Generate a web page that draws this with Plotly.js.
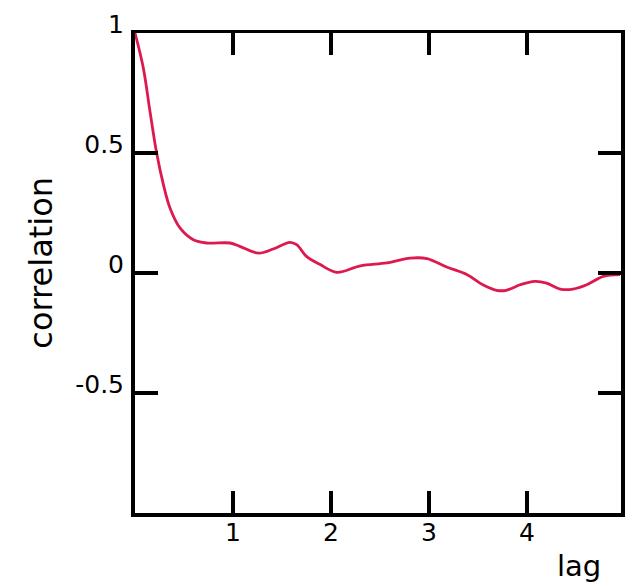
<!DOCTYPE html>
<html>
<head>
<meta charset="utf-8">
<script src="https://cdn.plot.ly/plotly-3.0.1.min.js"></script>
<style>html,body{margin:0;padding:0;background:#fff;} #chart{width:631px;height:588px;}</style>
</head>
<body>
<div id="chart"></div>
<script>
// lag values and autocorrelation
var lag = [0, 0.085, 0.153, 0.221, 0.29, 0.357, 0.459, 0.595, 0.73, 0.97, 1.07, 1.26, 1.41, 1.58, 1.65, 1.75, 1.89, 2.06, 2.30, 2.57, 2.81, 2.98, 3.18, 3.39, 3.55, 3.69, 3.79, 3.93, 4.08, 4.20, 4.34, 4.47, 4.61, 4.78, 4.95];
var correlation = [1.0, 0.854, 0.673, 0.5, 0.368, 0.271, 0.188, 0.139, 0.125, 0.125, 0.111, 0.083, 0.10, 0.128, 0.118, 0.069, 0.035, 0.003, 0.03, 0.042, 0.062, 0.06, 0.025, -0.007, -0.049, -0.072, -0.072, -0.049, -0.035, -0.042, -0.067, -0.067, -0.049, -0.014, -0.007];

var xTickVals = [1, 2, 3, 4];
var xTickText = ['1', '2', '3', '4'];
var yTickVals = [-0.5, 0, 0.5, 1];
var yTickText = ['-0.5', '0', '0.5', '1'];
var xTitle = 'lag';
var yTitle = 'correlation';

var trace = {
  x: lag, y: correlation, type: 'scatter', mode: 'lines',
  line: {color: '#dc1a4e', width: 2.8, shape: 'spline', smoothing: 1},
  hoverinfo: 'skip'
};

var fontFam = 'DejaVu Sans, Liberation Sans, Arial, sans-serif';
var layout = {
  width: 631, height: 588,
  margin: {l: 135, r: 10, t: 33, b: 75, pad: 0},
  paper_bgcolor: '#ffffff', plot_bgcolor: '#ffffff',
  showlegend: false,
  font: {family: fontFam, color: '#000'},
  xaxis: {
    range: [0, 4.96], showgrid: false, zeroline: false,
    showline: true, linecolor: '#000', linewidth: 3.5, mirror: 'ticks',
    ticks: 'inside', ticklen: 22, tickwidth: 3.5, tickcolor: '#000',
    tickmode: 'array', tickvals: xTickVals, ticktext: xTickText,
    ticklabelstandoff: -6,
    tickfont: {family: fontFam, size: 25, color: '#000'}
  },
  yaxis: {
    range: [-1, 1], showgrid: false, zeroline: false,
    showline: true, linecolor: '#000', linewidth: 4, mirror: 'ticks',
    ticks: 'inside', ticklen: 23, tickwidth: 3.5, tickcolor: '#000',
    tickmode: 'array', tickvals: yTickVals, ticktext: yTickText,
    ticklabelshift: -9, ticklabelstandoff: 2,
    tickfont: {family: fontFam, size: 25, color: '#000'}
  },
  annotations: [
    {text: yTitle, xref: 'paper', yref: 'paper', x: -0.193, y: 0.522,
     xanchor: 'center', yanchor: 'middle', textangle: -90, showarrow: false,
     font: {family: fontFam, size: 32, color: '#000'}},
    {text: xTitle, xref: 'paper', yref: 'paper', x: 0.9136, y: -0.110,
     xanchor: 'center', yanchor: 'middle', showarrow: false,
     font: {family: fontFam, size: 29, color: '#000'}}
  ]
};

Plotly.newPlot('chart', [trace], layout, {displayModeBar: false, staticPlot: true});
</script>
</body>
</html>
